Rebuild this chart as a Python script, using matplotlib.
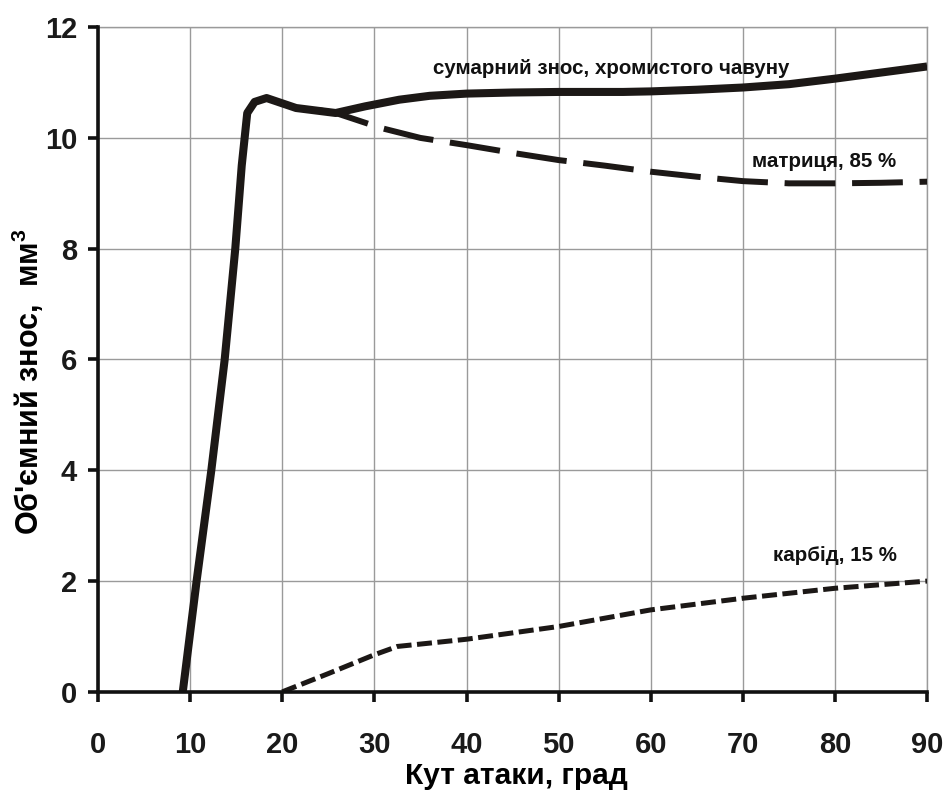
import matplotlib
matplotlib.use("Agg")
import matplotlib.pyplot as plt

plt.rcParams['font.family'] = ['Liberation Sans', 'DejaVu Sans']
plt.rcParams['mathtext.fontset'] = 'custom'
plt.rcParams['mathtext.rm'] = 'Liberation Sans'
plt.rcParams['mathtext.bf'] = 'Liberation Sans:bold'

# total wear of chromium cast iron
total_x = [9.2, 10.7, 12.3, 13.75, 14.9, 15.6, 16.2, 17.0, 18.3, 21.5, 25.8, 29, 32.7, 36,
           40, 45, 50, 57, 60, 65, 70, 75, 80, 85, 90]
total_y = [0, 2, 4, 6, 8, 9.5, 10.45, 10.65, 10.72, 10.54, 10.45, 10.57, 10.69, 10.76,
           10.8, 10.82, 10.83, 10.83, 10.84, 10.87, 10.91, 10.97, 11.07, 11.18, 11.29]

# matrix, 85 %
matrix_x = [24, 25.8, 30.7, 35, 40, 45, 50, 55, 60, 65, 70, 75, 80, 85, 90]
matrix_y = [10.5, 10.45, 10.18, 10.0, 9.87, 9.73, 9.6, 9.5, 9.39, 9.3, 9.22, 9.18, 9.18, 9.19, 9.21]

# carbide, 15 %
carb_x = [20, 25, 30, 32.5, 36, 40, 43.5, 50, 60, 70, 80, 90]
carb_y = [0, 0.33, 0.67, 0.82, 0.88, 0.95, 1.03, 1.18, 1.48, 1.69, 1.87, 2.0]

x_ticks = [0, 10, 20, 30, 40, 50, 60, 70, 80, 90]
y_ticks = [0, 2, 4, 6, 8, 10, 12]

labels = ["сумарний знос, хромистого чавуну", "матриця, 85 %", "карбід, 15 %"]

line_col = '#1c1816'

fig = plt.figure(figsize=(9.47, 7.98), dpi=100)
ax = fig.add_axes([0.1035, 0.133, 0.8755, 0.833])

ax.plot(total_x, total_y, color=line_col, lw=5.8, solid_capstyle='butt', solid_joinstyle='round', zorder=4)
ax.plot(matrix_x, matrix_y, color=line_col, lw=4.3, dashes=(8.5, 2.8), dash_capstyle='butt', zorder=3)
ax.plot(carb_x, carb_y, color=line_col, lw=3.6, dashes=(3.0, 1.1), dash_capstyle='butt', zorder=3)

ax.set_xlim(0, 90)
ax.set_ylim(0, 12)
ax.set_xticks(x_ticks)
ax.set_yticks(y_ticks)
ax.grid(True, color='#9a9a9a', lw=1.0)
ax.set_axisbelow(True)

for s in ['top', 'right']:
    ax.spines[s].set_color('#9a9a9a')
    ax.spines[s].set_linewidth(1.0)
for s in ['left', 'bottom']:
    ax.spines[s].set_color('#111111')
    ax.spines[s].set_linewidth(2.6)
    ax.spines[s].set_zorder(5)

ax.tick_params(axis='both', direction='out', length=7, width=2.6, color='#111111',
               labelsize=21, labelcolor='#1a1a1a')
ax.tick_params(axis='x', pad=21)
ax.tick_params(axis='y', pad=8)
for lab in ax.get_xticklabels() + ax.get_yticklabels():
    lab.set_fontweight('bold')

ax.text(36.4, 11.26, labels[0], fontsize=14.8, fontweight='bold', color='#111111', va='center', ha='left')
ax.text(71.0, 9.58, labels[1], fontsize=14.8, fontweight='bold', color='#111111', va='center', ha='left')
ax.text(73.3, 2.47, labels[2], fontsize=14.8, fontweight='bold', color='#111111', va='center', ha='left')

fig.text(0.545, 0.028, "Кут атаки, град", fontsize=21.5, fontweight='bold', ha='center', va='center')
fig.text(0.029, 0.522, "Об'ємний знос,  мм$^{\\mathbf{3}}$", fontsize=22, fontweight='bold',
         rotation=90, ha='center', va='center')

fig.savefig("out.png", dpi=100)
